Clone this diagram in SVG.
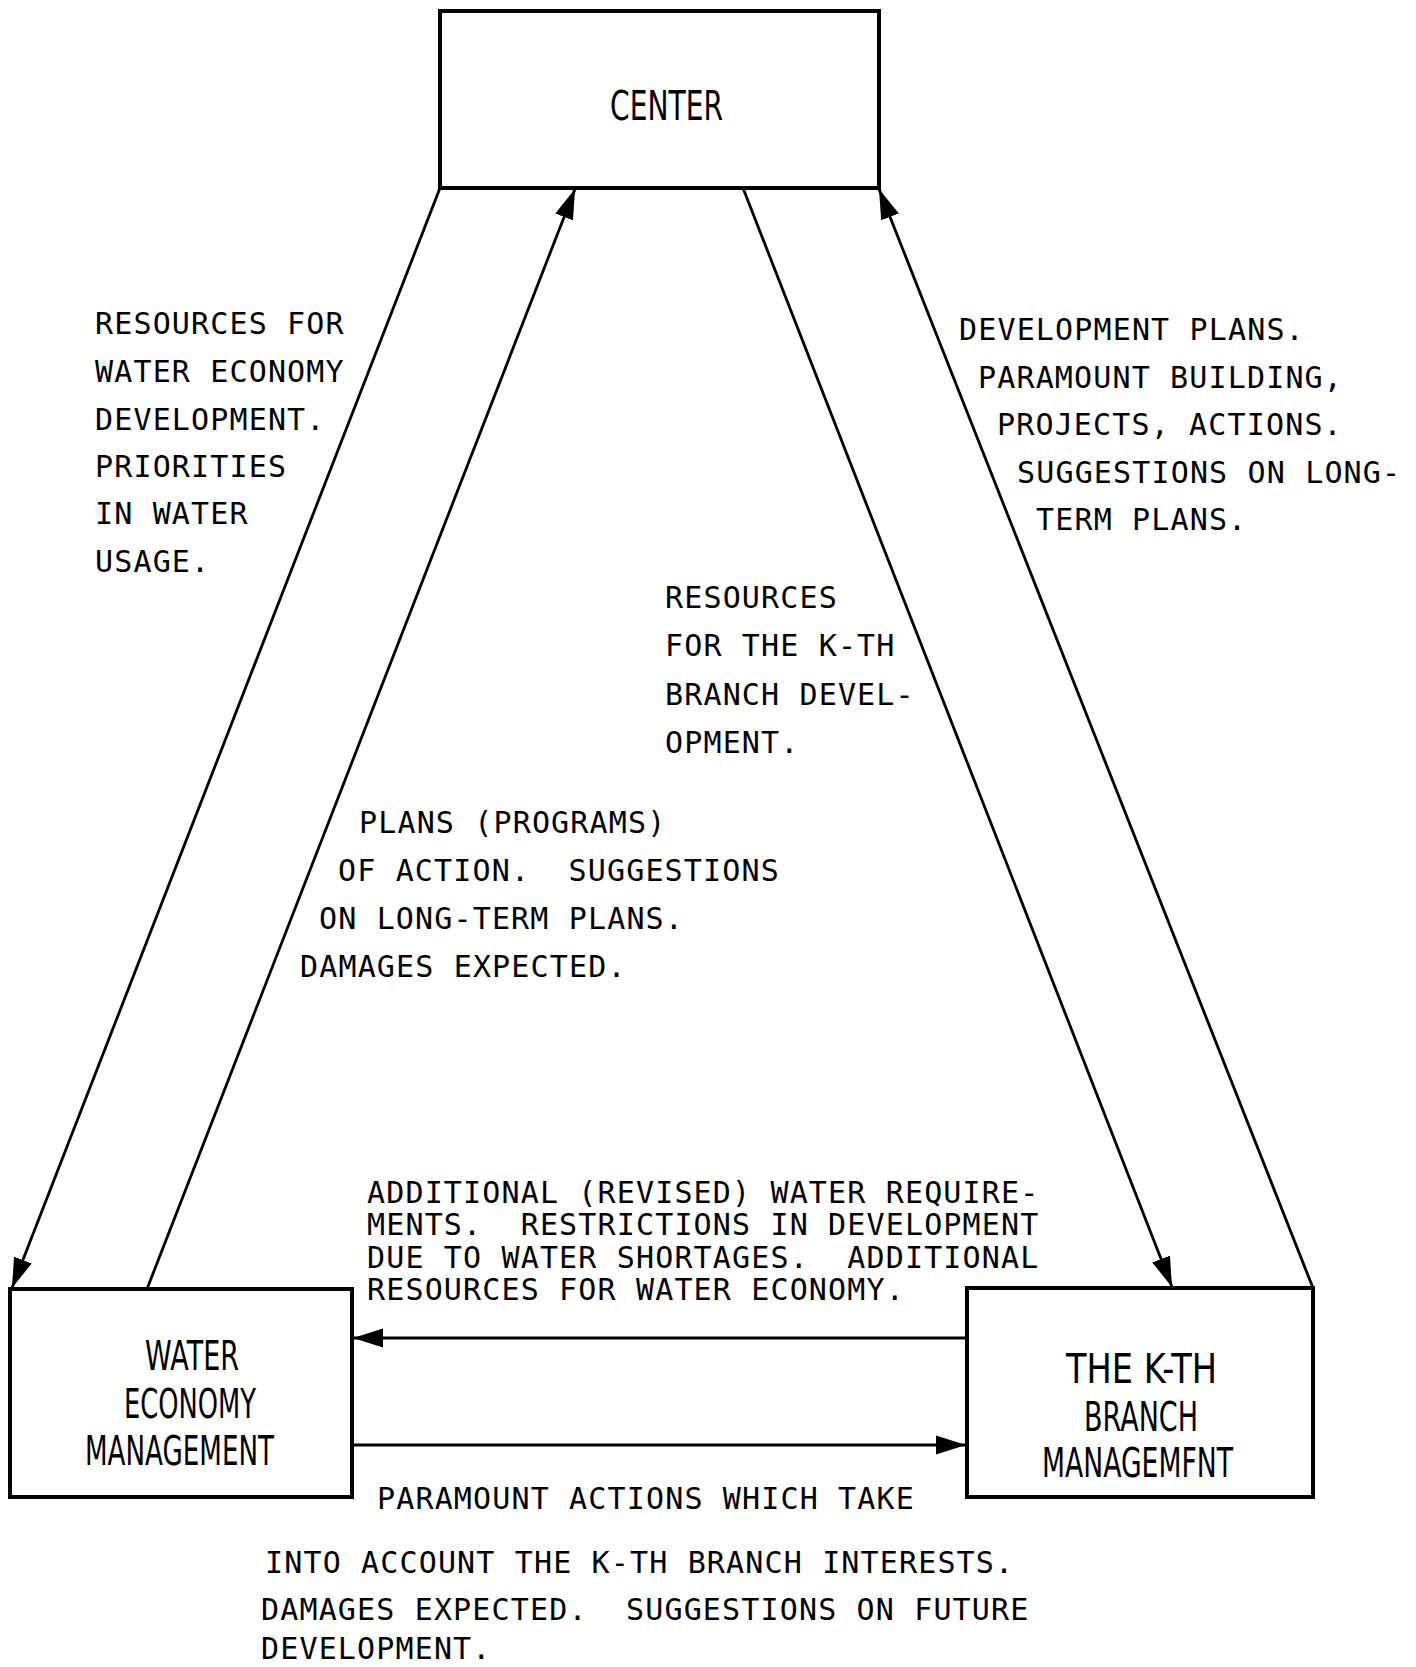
<svg xmlns="http://www.w3.org/2000/svg" width="1416" height="1667" viewBox="0 0 1416 1667">
<style>
.box{fill:#fff;stroke:#000;stroke-width:4}
.big{font-family:"DejaVu Sans","Liberation Sans",sans-serif;font-size:41px;fill:#000}
.t{font-family:"DejaVu Sans Mono","Liberation Mono",monospace;font-size:30px;letter-spacing:1.15px;fill:#000;white-space:pre}
.c{stroke:#000;stroke-width:2.8;fill:none}
</style>
<defs>
<marker id="ah" markerUnits="userSpaceOnUse" markerWidth="30" markerHeight="20" refX="30" refY="9.5" orient="auto" viewBox="0 0 30 19">
<path d="M0,0 L30,9.5 L0,19 z" fill="#000"/>
</marker>
</defs>
<rect width="1416" height="1667" fill="#fff"/>
<g id="connectors">
<line class="c" x1="440" y1="188" x2="12" y2="1288" marker-end="url(#ah)"/>
<line class="c" x1="147" y1="1289" x2="575" y2="189" marker-end="url(#ah)"/>
<line class="c" x1="743" y1="188" x2="1172" y2="1287" marker-end="url(#ah)"/>
<line class="c" x1="1313" y1="1288" x2="879" y2="189" marker-end="url(#ah)"/>
<line class="c" x1="967" y1="1338" x2="353" y2="1338" marker-end="url(#ah)"/>
<line class="c" x1="352" y1="1445" x2="966" y2="1445" marker-end="url(#ah)"/>
</g>
<g id="center">
<rect class="box" x="440" y="11" width="439" height="177"/>
<text class="big" x="610" y="120" textLength="113" lengthAdjust="spacingAndGlyphs">CENTER</text>
</g>
<g id="water">
<rect class="box" x="10" y="1289" width="342" height="208"/>
<text class="big" x="145" y="1370" textLength="94" lengthAdjust="spacingAndGlyphs">WATER</text>
<text class="big" x="124" y="1418" textLength="132" lengthAdjust="spacingAndGlyphs">ECONOMY</text>
<text class="big" x="85" y="1465" textLength="189" lengthAdjust="spacingAndGlyphs">MANAGEMENT</text>
</g>
<g id="kth">
<rect class="box" x="967" y="1288" width="346" height="209"/>
<text class="big" x="1066" y="1383" textLength="151" lengthAdjust="spacingAndGlyphs">THE K-TH</text>
<text class="big" x="1084" y="1431" textLength="114" lengthAdjust="spacingAndGlyphs">BRANCH</text>
<text class="big" x="1042" y="1477" textLength="191" lengthAdjust="spacingAndGlyphs">MANAGEMFNT</text>
</g>
<g id="labels">
<text class="t" x="95" y="334">RESOURCES FOR</text>
<text class="t" x="95" y="382">WATER ECONOMY</text>
<text class="t" x="95" y="430">DEVELOPMENT.</text>
<text class="t" x="95" y="477">PRIORITIES</text>
<text class="t" x="95" y="524">IN WATER</text>
<text class="t" x="95" y="572">USAGE.</text>

<text class="t" x="959" y="340">DEVELOPMENT PLANS.</text>
<text class="t" x="978" y="388">PARAMOUNT BUILDING,</text>
<text class="t" x="997" y="435">PROJECTS, ACTIONS.</text>
<text class="t" x="1017" y="483">SUGGESTIONS ON LONG-</text>
<text class="t" x="1036" y="530">TERM PLANS.</text>

<text class="t" x="665" y="608">RESOURCES</text>
<text class="t" x="665" y="656">FOR THE K-TH</text>
<text class="t" x="665" y="705">BRANCH DEVEL-</text>
<text class="t" x="665" y="753">OPMENT.</text>

<text class="t" x="359" y="833">PLANS (PROGRAMS)</text>
<text class="t" x="338" y="881">OF ACTION.  SUGGESTIONS</text>
<text class="t" x="319" y="929">ON LONG-TERM PLANS.</text>
<text class="t" x="300" y="977">DAMAGES EXPECTED.</text>

<text class="t" x="367" y="1203">ADDITIONAL (REVISED) WATER REQUIRE-</text>
<text class="t" x="367" y="1235">MENTS.  RESTRICTIONS IN DEVELOPMENT</text>
<text class="t" x="367" y="1268">DUE TO WATER SHORTAGES.  ADDITIONAL</text>
<text class="t" x="367" y="1300">RESOURCES FOR WATER ECONOMY.</text>

<text class="t" x="377" y="1509">PARAMOUNT ACTIONS WHICH TAKE</text>
<text class="t" x="265" y="1573">INTO ACCOUNT THE K-TH BRANCH INTERESTS.</text>
<text class="t" x="261" y="1620">DAMAGES EXPECTED.  SUGGESTIONS ON FUTURE</text>
<text class="t" x="261" y="1659">DEVELOPMENT.</text>
</g>
</svg>
